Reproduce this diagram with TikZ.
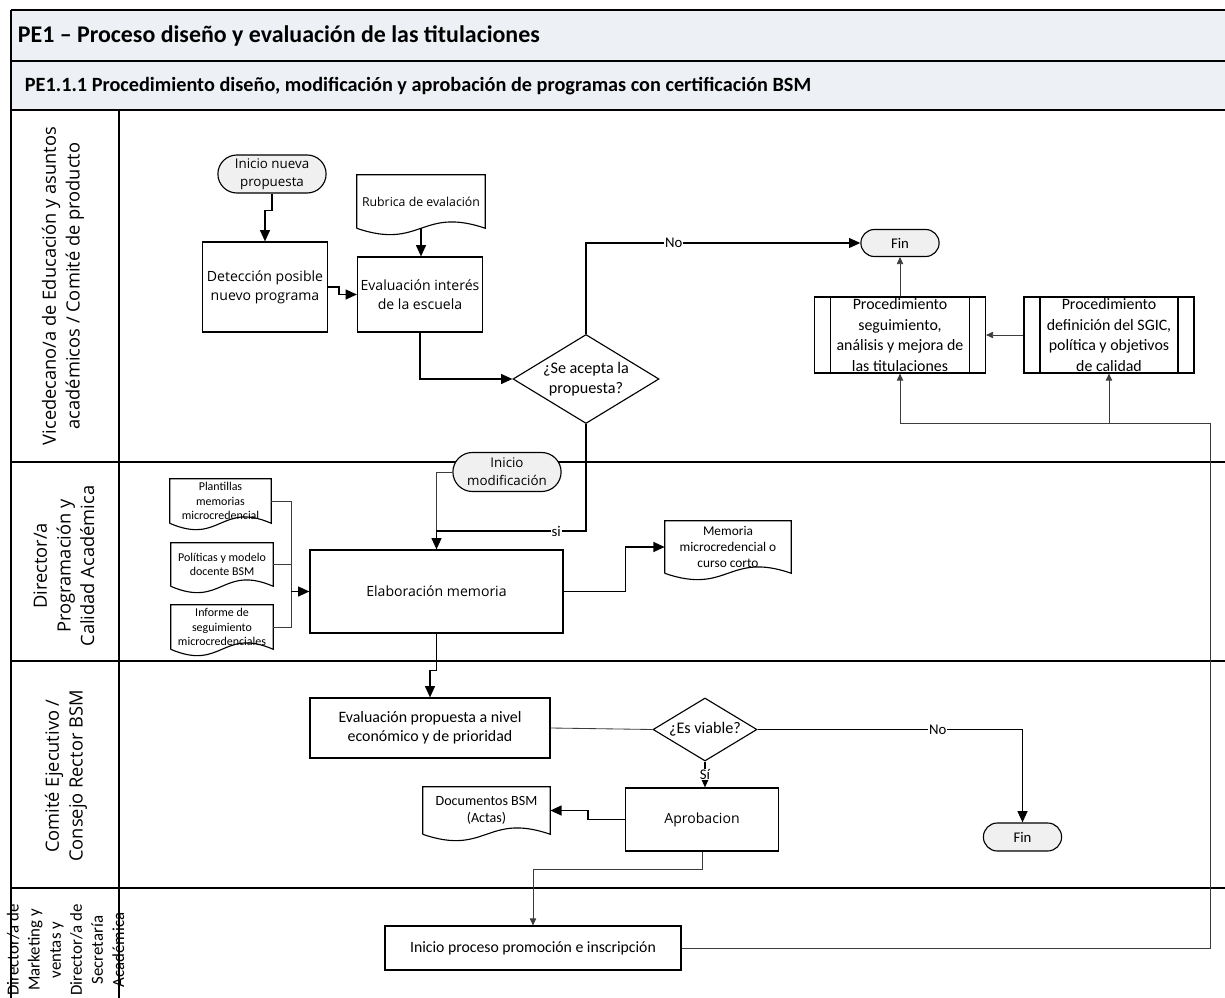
\documentclass[tikz,border=0pt]{standalone}
\usepackage{fontspec}
\setmainfont{Carlito}
\newfontfamily\segoe{Open Sans}
\usetikzlibrary{arrows.meta, positioning, shapes.geometric, shapes.misc, calc}
\definecolor{head-fill}{RGB}{237,240,245}
\definecolor{term-fill}{RGB}{240,240,240}
\definecolor{thin-line}{RGB}{60,60,60}

% wavy outline of a document node (south = ends of the wave)
\newcommand{\docwave}[1]{%
  \draw[line width=0.8pt] (#1.south west) -- (#1.north west) -- (#1.north east)
    -- (#1.south east) .. controls ($(#1.south)+(0,-22)$) and ($(#1.south)+(0,22)$)
    .. (#1.south west);}

\begin{document}
\begin{tikzpicture}[x=0.025cm, y=-0.025cm,
    lane/.style={line width=1.3pt},
    term/.style={rounded rectangle, draw, line width=0.8pt, fill=term-fill,
                 align=center, inner sep=1pt,
                 font=\segoe\fontsize{9.5}{13}\selectfont},
    task/.style={rectangle, draw, line width=0.8pt, fill=white,
                 align=center, inner sep=2pt,
                 font=\segoe\fontsize{10}{13.5}\selectfont},
    subproc/.style={rectangle, draw, line width=0.8pt, align=center,
                    inner sep=0pt, font=\fontsize{11.3}{14.8}\selectfont,
                    path picture={\draw[line width=0.8pt]
                      ([xshift=0.4cm]path picture bounding box.north west) --
                      ([xshift=0.4cm]path picture bounding box.south west)
                      ([xshift=-0.4cm]path picture bounding box.north east) --
                      ([xshift=-0.4cm]path picture bounding box.south east);}},
    decision/.style={diamond, draw, line width=0.8pt, aspect=1.65,
                     inner sep=0pt, align=center, fill=white,
                     font=\fontsize{11.5}{14}\selectfont},
    doc/.style={rectangle, inner sep=0pt, align=center},
    lanelbl/.style={rotate=90, align=center,
                    font=\segoe\fontsize{13}{16.8}\selectfont},
    arr/.style={-{Triangle[length=8pt, width=7pt]}, line width=1.1pt},
    thinarr/.style={-{Triangle[length=5pt, width=4.5pt]}, line width=0.6pt,
                    thin-line},
    thinline/.style={line width=0.6pt, thin-line},
    lbl/.style={fill=white, inner sep=0.6pt, font=\fontsize{10.5}{12}\selectfont},
]
\useasboundingbox (0,0) rectangle (1225,998);

% cabecera y calles
\fill[head-fill] (11,10) rectangle (1225,110);
\draw[lane] (11,10) -- (1225,10);
\draw[lane] (11,61) -- (1225,61);
\draw[lane] (11,110) -- (1225,110);
\draw[lane] (11,462) -- (1225,462);
\draw[lane] (11,661) -- (1225,661);
\draw[lane] (11,888) -- (1225,888);
\draw[lane] (11,10) -- (11,998);
\draw[lane] (119,110) -- (119,998);

\node[anchor=west, font=\bfseries\fontsize{17}{20}\selectfont] (titulo)
    at (13,36) {PE1 – Proceso diseño y evaluación de las titulaciones};
\node[anchor=west, font=\bfseries\fontsize{14.4}{17}\selectfont] (subtitulo)
    at (20,86) {PE1.1.1 Procedimiento diseño, modificación y aprobación de programas con certificación BSM};

\node[lanelbl] (calle1) at (63,286)
    {Vicedecano/a de Educación y asuntos\\académicos / Comité de producto};
\node[lanelbl] (calle2) at (64,566)
    {Director/a\\Programación y\\Calidad Académica};
\node[lanelbl] (calle3) at (66,776)
    {Comité Ejecutivo /\\Consejo Rector BSM};
\node[rotate=90, align=center, font=\fontsize{12}{15}\selectfont] (calle4)
    at (65.5,950)
    {Director/a de\\Marketing y\\ventas y\\Director/a de\\Secretaría\\Académica};

% calle 1
\node[term, minimum width=2.775cm, minimum height=0.95cm] (ininueva)
    at (272,174) {Inicio nueva\\propuesta};
\node[task, minimum width=3.125cm, minimum height=2.25cm] (deteccion)
    at (265,287) {Detección posible\\nuevo programa};
\node[doc, minimum width=3.2cm, minimum height=1.325cm,
      font=\segoe\fontsize{8.75}{10}\selectfont] (rubrica)
    at (421,201.5) {Rubrica de evalación};
\docwave{rubrica}
\node[task, minimum width=3.125cm, minimum height=1.875cm] (evalinteres)
    at (420,294.5) {Evaluación interés\\de la escuela};
\node[decision, minimum width=3.65cm, minimum height=2.225cm] (acepta)
    at (586,379) {¿Se acepta la\\propuesta?};
\node[term, minimum width=2.025cm, minimum height=0.675cm,
      font=\fontsize{10.5}{12}\selectfont] (fin1) at (900,243) {Fin};
\node[subproc, minimum width=4.275cm, minimum height=1.9cm] (procseg)
    at (900,335) {Procedimiento\\seguimiento,\\análisis y mejora de\\las titulaciones};
\node[subproc, minimum width=4.25cm, minimum height=1.9cm] (procsgic)
    at (1109,335) {Procedimiento\\definición del SGIC,\\política y objetivos\\de calidad};

% calle 2
\node[term, minimum width=2.775cm, minimum height=0.975cm] (inimod)
    at (507,472) {Inicio\\modificación};
\node[doc, minimum width=2.525cm, minimum height=1.1cm,
      font=\fontsize{8.5}{10.3}\selectfont] (plantillas)
    at (220.5,501) {Plantillas\\memorias\\microcredencial};
\docwave{plantillas}
\node[doc, minimum width=2.55cm, minimum height=1.075cm,
      font=\fontsize{8.5}{10.3}\selectfont] (politicas)
    at (222,564.5) {Políticas y modelo\\docente BSM};
\docwave{politicas}
\node[doc, minimum width=2.55cm, minimum height=1.1cm,
      font=\fontsize{8.5}{10.3}\selectfont] (informe)
    at (222,627) {Informe de\\seguimiento\\microcredenciales};
\docwave{informe}
\node[task, minimum width=6.325cm, minimum height=2.075cm] (elaboracion)
    at (436.5,591.5) {Elaboración memoria};
\node[doc, minimum width=3.15cm, minimum height=1.3cm,
      font=\fontsize{9.5}{11.4}\selectfont] (memoria)
    at (728,547) {Memoria\\microcredencial o\\curso corto};
\docwave{memoria}

% calle 3
\node[task, minimum width=6cm, minimum height=1.5cm,
      font=\fontsize{11.3}{13.7}\selectfont] (evalprop)
    at (430,728) {Evaluación propuesta a nivel\\económico y de prioridad};
\node[decision, minimum width=2.6cm, minimum height=1.575cm] (viable)
    at (705,729.5) {¿Es viable?};
\node[term, minimum width=2.025cm, minimum height=0.7cm,
      font=\fontsize{10.5}{12}\selectfont] (fin2) at (1022.5,837) {Fin};
\node[task, minimum width=3.825cm, minimum height=1.575cm] (aprobacion)
    at (702,819.5) {Aprobacion};
\node[doc, minimum width=3.175cm, minimum height=1.175cm,
      font=\fontsize{10}{12}\selectfont] (documentos)
    at (486.5,810.5) {Documentos BSM\\(Actas)};
\docwave{documentos}

% calle 4
\node[task, minimum width=7.4cm, minimum height=1.1cm,
      font=\fontsize{11.2}{13}\selectfont] (iniproc)
    at (533,948) {Inicio proceso promoción e inscripción};

% conectores
\draw[arr] (ininueva.south) -- ++(0,17) -| (deteccion.north);
\draw[arr] (rubrica.south) -- (rubrica.south |- evalinteres.north);
\draw[arr] (deteccion.east) -- ++(11,0) |- (evalinteres.west);
\draw[arr] (evalinteres.south) |- (acepta.west);
\draw[arr] (acepta.north) |- node[lbl, pos=0.66] {No} (fin1.west);
\draw[thinarr] (procseg.north) -- (fin1.south);
\draw[thinarr] (procsgic.west) -- (procseg.east);

\draw[thinline] (inimod.west) -| (elaboracion.north);
\draw[arr] (acepta.south) -- ++(0,107) -| node[lbl, pos=0.1] {si} (elaboracion.north);
\coordinate (docjoin) at ($(elaboracion.west)+(-18,0)$);
\draw[thinline] (plantillas.east) -| (docjoin);
\draw[thinline] (politicas.east) -| (docjoin);
\draw[thinline] (informe.east) -| (docjoin);
\draw[arr] (docjoin) -- (elaboracion.west);
\draw[arr] (elaboracion.east) -- ++(62,0) |- (memoria.west);

\draw[arr] (elaboracion.south) -- ++(0,37) -| (evalprop.north);
\draw[thinline] (evalprop.east) -- (viable.west);
\draw[arr] (viable.east) -| node[lbl, pos=0.34] {No} (fin2.north);
\draw[arr] (viable.south) -- node[lbl] {Sí} (viable.south |- aprobacion.north);
\draw[arr] (aprobacion.west) -- ++(-37,0) |- (documentos.east);
\draw[thinarr] (aprobacion.south) -- ++(0,18) -| (iniproc.north);

\coordinate (retorno) at (1210,423);
\draw[thinarr] (iniproc.east) -| (retorno) -| (procseg.south);
\draw[thinarr] (procsgic.south |- retorno) -- (procsgic.south);

\end{tikzpicture}
\end{document}
